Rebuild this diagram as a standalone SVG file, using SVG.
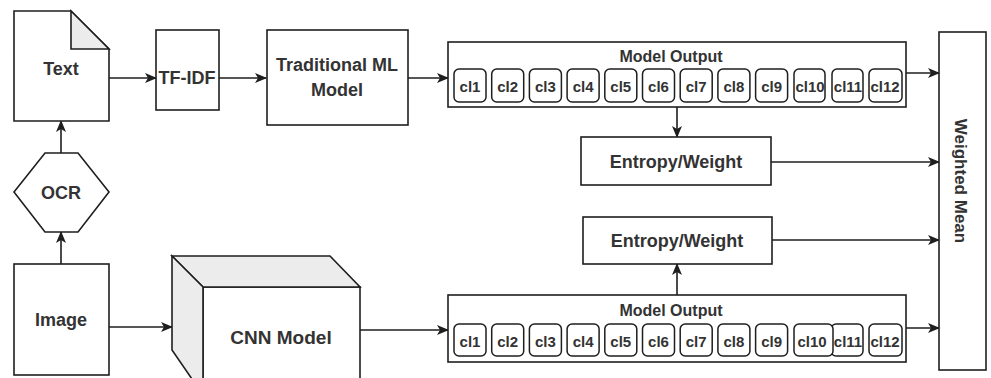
<svg xmlns="http://www.w3.org/2000/svg" width="991" height="378" viewBox="0 0 991 378">
<defs>
<style>
.s{fill:#fff;stroke:#1e1e1e;stroke-width:1.6}
.g{fill:#ececec;stroke:#1e1e1e;stroke-width:1.6}
.c{fill:#fff;stroke:#1e1e1e;stroke-width:1.5}
.e{fill:none;stroke:#1e1e1e;stroke-width:1.6}
text{font-family:"Liberation Sans",Arial,sans-serif;font-weight:bold;fill:#333;text-anchor:middle;dominant-baseline:central}
.l{font-size:18px}
.m{font-size:16px}
.k{font-size:15px}
</style>
<marker id="a" markerWidth="12" markerHeight="10" refX="11" refY="5" orient="auto" markerUnits="userSpaceOnUse">
<path d="M0,0 L12,5 L0,10 L3,5 Z" fill="#1e1e1e"/>
</marker>
</defs>
<rect width="991" height="378" fill="#fff"/>

<g id="connectors">
<path class="e" d="M109,78 H156" marker-end="url(#a)"/>
<path class="e" d="M219,78 H266" marker-end="url(#a)"/>
<path class="e" d="M408,78 H448" marker-end="url(#a)"/>
<path class="e" d="M61,264 V232" marker-end="url(#a)"/>
<path class="e" d="M61,153 V121" marker-end="url(#a)"/>
<path class="e" d="M109,327 H172" marker-end="url(#a)"/>
<path class="e" d="M360,330 H448" marker-end="url(#a)"/>
<path class="e" d="M677,107 V137" marker-end="url(#a)"/>
<path class="e" d="M677,295 V264" marker-end="url(#a)"/>
<path class="e" d="M906,73 H939" marker-end="url(#a)"/>
<path class="e" d="M771,162 H939" marker-end="url(#a)"/>
<path class="e" d="M772,240 H939" marker-end="url(#a)"/>
<path class="e" d="M906,328 H939" marker-end="url(#a)"/>
</g>

<g id="text-doc">
<path class="s" d="M14,11 H71 L109,49 V121 H14 Z"/>
<path class="g" d="M71,11 L109,49 H71 Z"/>
<text class="l" x="61" y="69">Text</text>
</g>

<g id="ocr">
<polygon class="s" points="45,153 78,153 109,192 78,232 45,232 14,192"/>
<text class="l" x="61" y="193">OCR</text>
</g>

<g id="image">
<rect class="s" x="14" y="264" width="95" height="111"/>
<text class="l" x="61" y="320">Image</text>
</g>

<g id="tfidf">
<rect class="s" x="156" y="30" width="63" height="80"/>
<text class="l" x="187" y="78">TF-IDF</text>
</g>

<g id="traditional-ml">
<rect class="s" x="267" y="30" width="141" height="95"/>
<text class="l" x="337" y="65">Traditional ML</text>
<text class="l" x="337" y="90">Model</text>
</g>

<g id="cnn-model">
<rect class="s" x="203" y="287" width="157" height="110"/>
<polygon class="g" points="172,256 330,256 360,287 203,287"/>
<polygon class="g" points="172,256 203,287 203,395 172,350"/>
<text class="l" x="281" y="337" style="font-size:19px">CNN Model</text>
</g>

<g id="model-output-top">
<rect class="s" x="448" y="42" width="458" height="65"/>
<text class="m" x="671" y="56">Model Output</text>
<rect class="c" x="454" y="69" width="32" height="33" rx="5"/><text class="k" x="470" y="86">cl1</text>
<rect class="c" x="491.7" y="69" width="32" height="33" rx="5"/><text class="k" x="507.7" y="86">cl2</text>
<rect class="c" x="529.4" y="69" width="32" height="33" rx="5"/><text class="k" x="545.4" y="86">cl3</text>
<rect class="c" x="567.1" y="69" width="32" height="33" rx="5"/><text class="k" x="583.1" y="86">cl4</text>
<rect class="c" x="604.8" y="69" width="32" height="33" rx="5"/><text class="k" x="620.8" y="86">cl5</text>
<rect class="c" x="642.5" y="69" width="32" height="33" rx="5"/><text class="k" x="658.5" y="86">cl6</text>
<rect class="c" x="680.2" y="69" width="32" height="33" rx="5"/><text class="k" x="696.2" y="86">cl7</text>
<rect class="c" x="717.9" y="69" width="32" height="33" rx="5"/><text class="k" x="733.9" y="86">cl8</text>
<rect class="c" x="755.6" y="69" width="32" height="33" rx="5"/><text class="k" x="771.6" y="86">cl9</text>
<rect class="c" x="794" y="69" width="31" height="33" rx="5"/><text class="k" x="810" y="86">cl10</text>
<rect class="c" x="832" y="69" width="31" height="33" rx="5"/><text class="k" x="848" y="86">cl11</text>
<rect class="c" x="869" y="69" width="33" height="33" rx="5"/><text class="k" x="885" y="86">cl12</text>
</g>

<g id="model-output-bottom">
<rect class="s" x="448" y="295" width="458" height="67"/>
<text class="m" x="671" y="310">Model Output</text>
<rect class="c" x="454" y="324" width="32" height="32" rx="5"/><text class="k" x="470" y="341">cl1</text>
<rect class="c" x="491.7" y="324" width="32" height="32" rx="5"/><text class="k" x="507.7" y="341">cl2</text>
<rect class="c" x="529.4" y="324" width="32" height="32" rx="5"/><text class="k" x="545.4" y="341">cl3</text>
<rect class="c" x="567.1" y="324" width="32" height="32" rx="5"/><text class="k" x="583.1" y="341">cl4</text>
<rect class="c" x="604.8" y="324" width="32" height="32" rx="5"/><text class="k" x="620.8" y="341">cl5</text>
<rect class="c" x="642.5" y="324" width="32" height="32" rx="5"/><text class="k" x="658.5" y="341">cl6</text>
<rect class="c" x="680.2" y="324" width="32" height="32" rx="5"/><text class="k" x="696.2" y="341">cl7</text>
<rect class="c" x="717.9" y="324" width="32" height="32" rx="5"/><text class="k" x="733.9" y="341">cl8</text>
<rect class="c" x="755.6" y="324" width="32" height="32" rx="5"/><text class="k" x="771.6" y="341">cl9</text>
<rect class="c" x="831" y="324" width="32" height="32" rx="5"/>
<rect class="c" x="794" y="324" width="39" height="32" rx="5"/><text class="k" x="812" y="341">cl10</text>
<text class="k" x="848" y="341">cl11</text>
<rect class="c" x="869" y="324" width="33" height="32" rx="5"/><text class="k" x="885" y="341">cl12</text>
</g>

<g id="entropy-top">
<rect class="s" x="581" y="137" width="190" height="48"/>
<text class="l" x="676" y="162">Entropy/Weight</text>
</g>

<g id="entropy-bottom">
<rect class="s" x="583" y="217" width="189" height="47"/>
<text class="l" x="677" y="241">Entropy/Weight</text>
</g>

<g id="weighted-mean">
<rect class="s" x="939" y="32" width="47" height="338"/>
<text style="font-size:17px" transform="translate(960,181) rotate(90)" x="0" y="0">Weighted Mean</text>
</g>
</svg>
